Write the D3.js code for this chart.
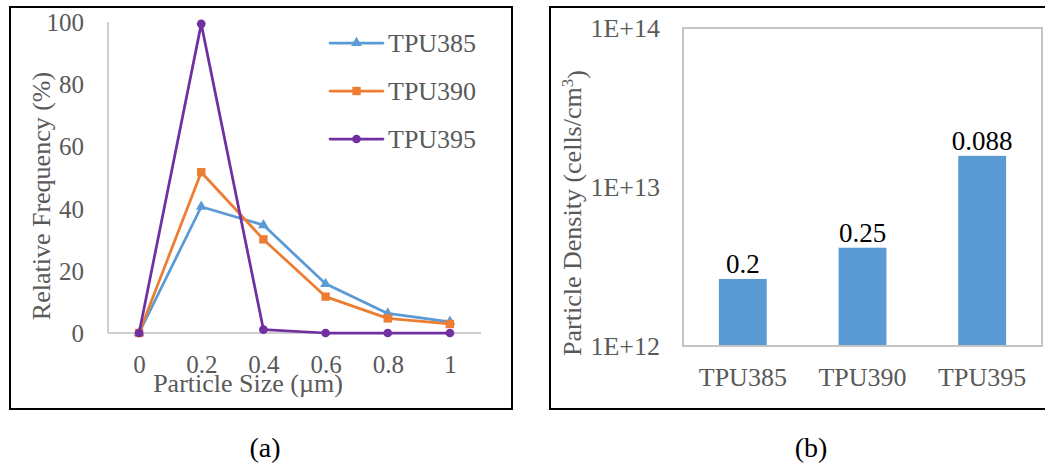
<!DOCTYPE html>
<html>
<head>
<meta charset="utf-8">
<script src="https://cdn.jsdelivr.net/npm/d3@7"></script>
<style>
  html, body { margin: 0; padding: 0; background: #fff; }
  svg { display: block; }
</style>
</head>
<body>
<svg id="chart" width="1045" height="467"></svg>
<script>
// ---------- data ----------
const particleSizes = [0, 0.2, 0.4, 0.6, 0.8, 1];
const sizeTickLabels = ["0", "0.2", "0.4", "0.6", "0.8", "1"];
const freqTicks = [0, 20, 40, 60, 80, 100];
const seriesNames = ["TPU385", "TPU390", "TPU395"];
const freqTPU385 = [0, 40.6, 34.7, 15.8, 6.3, 3.6];
const freqTPU390 = [0, 51.7, 30.1, 11.7, 4.7, 2.9];
const freqTPU395 = [0, 99.4, 1.1, 0, 0, 0];
const seriesColors = ["#5B9BD5", "#ED7D31", "#7030A0"];
const seriesMarkers = ["triangle", "square", "circle"];

const samples = ["TPU385", "TPU390", "TPU395"];
const densityValues = [2.64e12, 4.15e12, 1.57e13];
const densityLabels = ["0.2", "0.25", "0.088"];
const densityTicks = [1e12, 1e13, 1e14];
const densityTickLabels = ["1E+12", "1E+13", "1E+14"];

// ---------- setup ----------
const FONT = '"Liberation Serif"';
const svg = d3.select("#chart");
const gray = "#595959";
const axisGray = "#BFBFBF";

// outer panel borders
svg.append("rect").attr("x", 10).attr("y", 7).attr("width", 502).attr("height", 402)
  .attr("fill", "none").attr("stroke", "#000").attr("stroke-width", 2);
svg.append("rect").attr("x", 550).attr("y", 7).attr("width", 500).attr("height", 402)
  .attr("fill", "none").attr("stroke", "#000").attr("stroke-width", 2);

// ---------- panel (a) ----------
const ax = { left: 108, right: 481, top: 22, bottom: 333 };
const x = d3.scalePoint().domain(particleSizes).range([ax.left, ax.right]).padding(0.5);
const y = d3.scaleLinear().domain([0, 100]).range([ax.bottom, ax.top]);

svg.append("line").attr("x1", ax.left).attr("x2", ax.left).attr("y1", ax.top).attr("y2", ax.bottom)
  .attr("stroke", axisGray).attr("stroke-width", 1.5);
svg.append("line").attr("x1", ax.left).attr("x2", ax.right).attr("y1", ax.bottom).attr("y2", ax.bottom)
  .attr("stroke", axisGray).attr("stroke-width", 1.5);

const yAxisA = svg.append("g").attr("transform", `translate(${ax.left},0)`)
  .call(d3.axisLeft(y).tickValues(freqTicks).tickSize(0).tickPadding(24));
yAxisA.select(".domain").remove();
yAxisA.selectAll("text").attr("fill", gray).style("font-size", "25px")
  .style("font-family", FONT).attr("dy", "0.34em");

const xAxisA = svg.append("g").attr("transform", `translate(0,${ax.bottom})`)
  .call(d3.axisBottom(x).tickSize(0).tickFormat((d, i) => sizeTickLabels[i]));
xAxisA.select(".domain").remove();
xAxisA.selectAll("text").attr("fill", gray).style("font-size", "25px")
  .style("font-family", FONT).attr("y", 40).attr("dy", 0);

svg.append("text").attr("x", 248).attr("y", 392).attr("text-anchor", "middle")
  .attr("fill", gray).style("font-size", "26px").style("font-family", FONT).text("Particle Size (µm)");
svg.append("text").attr("transform", "translate(50,196) rotate(-90)").attr("text-anchor", "middle")
  .attr("fill", gray).style("font-size", "26px").style("font-family", FONT).text("Relative Frequency (%)");

const allSeries = [freqTPU385, freqTPU390, freqTPU395];
const line = d3.line().x((d, i) => x(particleSizes[i])).y(d => y(d));

function drawMarker(g, type, cx, cy, color) {
  let sym, size;
  if (type === "triangle") { sym = d3.symbolTriangle; size = 50; }
  else if (type === "square") { sym = d3.symbolSquare; size = 70; }
  else { sym = d3.symbolCircle; size = 60; }
  g.append("path").attr("d", d3.symbol(sym, size)())
    .attr("transform", `translate(${cx},${cy})`).attr("fill", color);
}

allSeries.forEach((vals, s) => {
  const g = svg.append("g");
  g.append("path").datum(vals).attr("d", line).attr("fill", "none")
    .attr("stroke", seriesColors[s]).attr("stroke-width", 2.75).attr("stroke-linejoin", "round");
  vals.forEach((v, i) => drawMarker(g, seriesMarkers[s], x(particleSizes[i]), y(v), seriesColors[s]));
});

// legend
const legendY = d3.scalePoint().domain(seriesNames).range([43, 139]);
seriesNames.forEach((name, s) => {
  const ly = legendY(name);
  const g = svg.append("g");
  g.append("line").attr("x1", 330).attr("x2", 383).attr("y1", ly).attr("y2", ly)
    .attr("stroke", seriesColors[s]).attr("stroke-width", 2.75).attr("stroke-linecap", "round");
  drawMarker(g, seriesMarkers[s], 356.5, ly, seriesColors[s]);
  g.append("text").attr("x", 388).attr("y", ly).attr("dy", "0.34em").attr("fill", gray)
    .style("font-size", "26px").style("font-family", FONT).text(name);
});

// ---------- panel (b) ----------
const bx = { left: 683, right: 1042, top: 28, bottom: 346 };
const xb = d3.scaleBand().domain(samples).range([bx.left, bx.right]).paddingInner(0.6).paddingOuter(0.3);
const yb = d3.scaleLog().domain([1e12, 1e14]).range([bx.bottom, bx.top]);

svg.append("rect").attr("x", bx.left).attr("y", bx.top).attr("width", bx.right - bx.left)
  .attr("height", bx.bottom - bx.top).attr("fill", "none").attr("stroke", "#C4C4C4").attr("stroke-width", 2);

svg.append("g").selectAll("rect").data(densityValues).join("rect")
  .attr("x", (d, i) => xb(samples[i])).attr("width", xb.bandwidth())
  .attr("y", d => yb(d)).attr("height", d => yb(1e12) - yb(d) - 1)
  .attr("fill", "#5B9BD5");

svg.append("g").selectAll("text").data(densityValues).join("text")
  .attr("x", (d, i) => xb(samples[i]) + xb.bandwidth() / 2).attr("y", d => yb(d) - 5.5)
  .attr("text-anchor", "middle").attr("fill", "#000").style("font-size", "27px")
  .style("font-family", FONT)
  .text((d, i) => densityLabels[i]);

const yAxisB = svg.append("g").attr("transform", `translate(${bx.left},0)`)
  .call(d3.axisLeft(yb).tickValues(densityTicks).tickSize(0).tickPadding(23)
    .tickFormat((d, i) => densityTickLabels[i]));
yAxisB.select(".domain").remove();
yAxisB.selectAll("text").attr("fill", gray).style("font-size", "26px")
  .style("font-family", FONT).attr("dy", "0.34em");

const xAxisB = svg.append("g").attr("transform", `translate(0,${bx.bottom})`)
  .call(d3.axisBottom(xb).tickSize(0));
xAxisB.select(".domain").remove();
xAxisB.selectAll("text").attr("fill", gray).style("font-size", "26px")
  .style("font-family", FONT).attr("y", 40).attr("dy", 0);

const yTitleB = svg.append("text").attr("transform", "translate(581,213) rotate(-90)")
  .attr("text-anchor", "middle").attr("fill", gray).style("font-size", "26px").style("font-family", FONT);
yTitleB.append("tspan").text("Particle Density (cells/cm");
yTitleB.append("tspan").attr("dy", "-0.45em").style("font-size", "17px").text("3");
yTitleB.append("tspan").attr("dy", "0.45em").text(")");

// captions
svg.append("text").attr("x", 265).attr("y", 457).attr("text-anchor", "middle")
  .attr("fill", "#000").style("font-size", "28px").style("font-family", FONT).text("(a)");
svg.append("text").attr("x", 811).attr("y", 457).attr("text-anchor", "middle")
  .attr("fill", "#000").style("font-size", "28px").style("font-family", FONT).text("(b)");
</script>
</body>
</html>
